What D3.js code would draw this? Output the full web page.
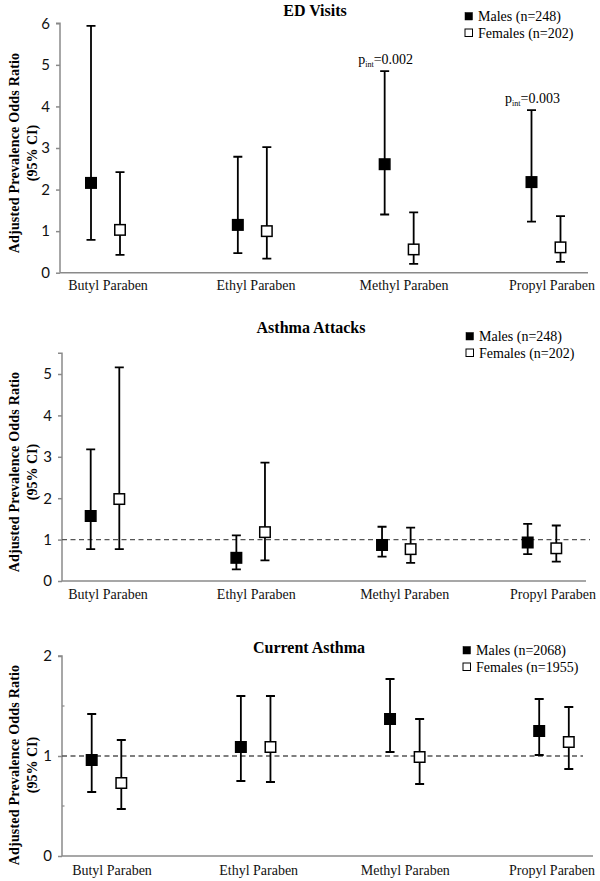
<!DOCTYPE html>
<html><head><meta charset="utf-8">
<script src="https://cdn.jsdelivr.net/npm/d3@7"></script>
<style>body{margin:0;background:#fff}svg{display:block}</style>
</head><body>
<script>
// ---------- DATA ----------
const categories = ["Butyl Paraben", "Ethyl Paraben", "Methyl Paraben", "Propyl Paraben"];

// ED Visits
const edMaleOR = [2.16, 1.15, 2.61, 2.18];
const edMaleLo = [0.79, 0.47, 1.40, 1.23];
const edMaleHi = [5.94, 2.79, 4.85, 3.91];
const edFemaleOR = [1.03, 1.00, 0.56, 0.61];
const edFemaleLo = [0.43, 0.34, 0.21, 0.26];
const edFemaleHi = [2.42, 3.02, 1.45, 1.36];
const edPint = ["", "", "0.002", "0.003"];
const edLegend = ["Males (n=248)", "Females (n=202)"];
const edTicks = [0, 1, 2, 3, 4, 5, 6];

// Asthma Attacks
const aaMaleOR = [1.57, 0.56, 0.87, 0.93];
const aaMaleLo = [0.77, 0.28, 0.59, 0.65];
const aaMaleHi = [3.18, 1.10, 1.31, 1.38];
const aaFemaleOR = [1.98, 1.18, 0.77, 0.79];
const aaFemaleLo = [0.77, 0.50, 0.44, 0.47];
const aaFemaleHi = [5.16, 2.86, 1.29, 1.34];
const aaLegend = ["Males (n=248)", "Females (n=202)"];
const aaTicks = [0, 1, 2, 3, 4, 5];

// Current Asthma
const caMaleOR = [0.96, 1.09, 1.37, 1.25];
const caMaleLo = [0.64, 0.75, 1.04, 1.01];
const caMaleHi = [1.42, 1.60, 1.77, 1.57];
const caFemaleOR = [0.73, 1.09, 0.99, 1.14];
const caFemaleLo = [0.47, 0.74, 0.72, 0.87];
const caFemaleHi = [1.16, 1.60, 1.37, 1.49];
const caLegend = ["Males (n=2068)", "Females (n=1955)"];
const caTicks = [0, 1, 2];
const caMinorTicks = [0.5, 1.5];

const yLabel1 = "Adjusted Prevalence Odds Ratio";
const yLabel2 = "(95% CI)";

// ---------- DRAW ----------
const W = 600, H = 881;
const svg = d3.select("body").append("svg").attr("width", W).attr("height", H);
const serif = "'Liberation Serif','Times New Roman',serif";
const sans = "Lato,'Open Sans',sans-serif";
const axisColor = "#8a8a8a";

function drawPanel(p) {
  const g = svg.append("g");
  const y = d3.scaleLinear().domain([0, p.yMax]).range([p.y0, p.yTop]);
  const x = d3.scalePoint().domain(categories).range([p.gx0, p.gx1]);
  const xl = d3.scalePoint().domain(categories).range([p.lx0, p.lx1]);
  const off = p.off;

  // title
  g.append("text").attr("x", p.titleX).attr("y", p.titleY)
    .attr("text-anchor", "middle").attr("font-family", serif)
    .attr("font-weight", "bold").attr("font-size", 16).text(p.title);

  // legend
  p.legend.forEach((t, i) => {
    const ly = p.legY + i * 16.5;
    g.append("rect").attr("x", p.legX).attr("y", ly - 8.5).attr("width", 7.5).attr("height", 7.5)
      .attr("fill", i === 0 ? "#000" : "#fff").attr("stroke", "#000").attr("stroke-width", i === 0 ? 0.5 : 1);
    g.append("text").attr("x", p.legX + 13).attr("y", ly).attr("font-family", serif)
      .attr("font-size", 14).text(t);
  });

  // y axis
  const yAxis = d3.axisLeft(y).tickValues(p.ticks).tickFormat(d3.format("d"))
    .tickSize(4).tickPadding(6);
  const ya = g.append("g").attr("transform", `translate(${p.ax},0)`).call(yAxis);
  ya.select(".domain").attr("stroke", axisColor).attr("stroke-width", 1.5).attr("d", `M-4,${p.yTop}H0V${p.y0}`);
  ya.selectAll(".tick line").attr("stroke", axisColor).attr("stroke-width", 1.5);
  ya.selectAll(".tick text").attr("font-family", sans).attr("font-size", 15).attr("fill", "#111");
  if (p.minor) {
    g.selectAll(".minor").data(p.minor).join("line")
      .attr("x1", p.ax).attr("x2", p.ax + 2.5).attr("y1", d => y(d)).attr("y2", d => y(d))
      .attr("stroke", axisColor).attr("stroke-width", 1.2);
  }

  // x axis line
  g.append("line").attr("x1", p.ax).attr("x2", p.xRight).attr("y1", p.y0).attr("y2", p.y0)
    .attr("stroke", axisColor).attr("stroke-width", 1.5);

  // category labels
  g.selectAll(".cat").data(categories).join("text")
    .attr("x", d => xl(d)).attr("y", p.labY).attr("text-anchor", "middle")
    .attr("font-family", serif).attr("font-size", 14).attr("fill", "#111").text(d => d);

  // reference line
  if (p.refLine) {
    g.append("line").attr("x1", p.ax).attr("x2", p.refEnd).attr("y1", y(1)).attr("y2", y(1))
      .attr("stroke", "#555").attr("stroke-width", 1.3).attr("stroke-dasharray", "5,3.5");
  }

  // y label
  const lab = g.append("g").attr("transform", `translate(0,${p.labCenter}) rotate(-90)`);
  lab.append("text").attr("x", 0).attr("y", 19).attr("text-anchor", "middle")
    .attr("font-family", serif).attr("font-weight", "bold").attr("font-size", 14)
    .attr("letter-spacing", 0.2).text(yLabel1);
  lab.append("text").attr("x", 0).attr("y", 37).attr("text-anchor", "middle")
    .attr("font-family", serif).attr("font-weight", "bold").attr("font-size", 14).text(yLabel2);

  // series
  const series = [
    { or: p.mOR, lo: p.mLo, hi: p.mHi, dx: -off, fill: "#000" },
    { or: p.fOR, lo: p.fLo, hi: p.fHi, dx: off, fill: "#fff" }
  ];
  const cap = 4.5, sz = 10.5;
  series.forEach(s => {
    const rows = categories.map((c, i) => ({ c, or: s.or[i], lo: s.lo[i], hi: s.hi[i] }));
    const sg = g.append("g");
    sg.selectAll(".bar").data(rows).join("path")
      .attr("d", d => {
        const cx = x(d.c) + s.dx;
        return `M${cx},${y(d.lo)}V${y(d.hi)}M${cx - cap},${y(d.hi)}H${cx + cap}M${cx - cap},${y(d.lo)}H${cx + cap}`;
      })
      .attr("stroke", "#000").attr("stroke-width", 1.8).attr("fill", "none");
    sg.selectAll(".pt").data(rows).join("rect")
      .attr("x", d => x(d.c) + s.dx - sz / 2).attr("y", d => y(d.or) - sz / 2)
      .attr("width", sz).attr("height", sz)
      .attr("fill", s.fill).attr("stroke", "#000").attr("stroke-width", 1.5);
  });

  // p-interaction labels
  if (p.pint) {
    p.pint.forEach((v, i) => {
      if (!v) return;
      const cx = x(categories[i]) - off;
      const t = g.append("text").attr("x", cx + 1).attr("y", y(p.mHi[i]) - 7)
        .attr("text-anchor", "middle").attr("font-family", serif).attr("font-size", 14).attr("fill", "#000");
      t.append("tspan").text("p");
      t.append("tspan").attr("dy", 3).attr("font-size", 8).text("int");
      t.append("tspan").attr("dy", -3).text("=" + v);
    });
  }
}

drawPanel({
  title: "ED Visits", titleX: 315, titleY: 16,
  legend: edLegend, legX: 465, legY: 21,
  yMax: 6, y0: 272.7, yTop: 23.3, ticks: edTicks,
  ax: 60, xRight: 588, gx0: 105.5, gx1: 546, off: 14.5,
  lx0: 108, lx1: 552,
  labY: 290, labCenter: 153,
  mOR: edMaleOR, mLo: edMaleLo, mHi: edMaleHi,
  fOR: edFemaleOR, fLo: edFemaleLo, fHi: edFemaleHi,
  pint: edPint, refLine: false
});

drawPanel({
  title: "Asthma Attacks", titleX: 311, titleY: 333,
  legend: aaLegend, legX: 466, legY: 341,
  yMax: 5.5, y0: 581, yTop: 353.3, ticks: aaTicks,
  ax: 62, xRight: 586, gx0: 105, gx1: 542, off: 14.3,
  lx0: 108, lx1: 553,
  labY: 599, labCenter: 472,
  mOR: aaMaleOR, mLo: aaMaleLo, mHi: aaMaleHi,
  fOR: aaFemaleOR, fLo: aaFemaleLo, fHi: aaFemaleHi,
  refLine: true, refEnd: 590
});

drawPanel({
  title: "Current Asthma", titleX: 309, titleY: 653,
  legend: caLegend, legX: 463, legY: 655,
  yMax: 2, y0: 856, yTop: 656, ticks: caTicks, minor: caMinorTicks,
  ax: 62, xRight: 593, gx0: 106.5, gx1: 554, off: 14.8,
  lx0: 112, lx1: 552,
  labY: 875, labCenter: 765,
  mOR: caMaleOR, mLo: caMaleLo, mHi: caMaleHi,
  fOR: caFemaleOR, fLo: caFemaleLo, fHi: caFemaleHi,
  refLine: true, refEnd: 583
});
</script>
</body></html>
